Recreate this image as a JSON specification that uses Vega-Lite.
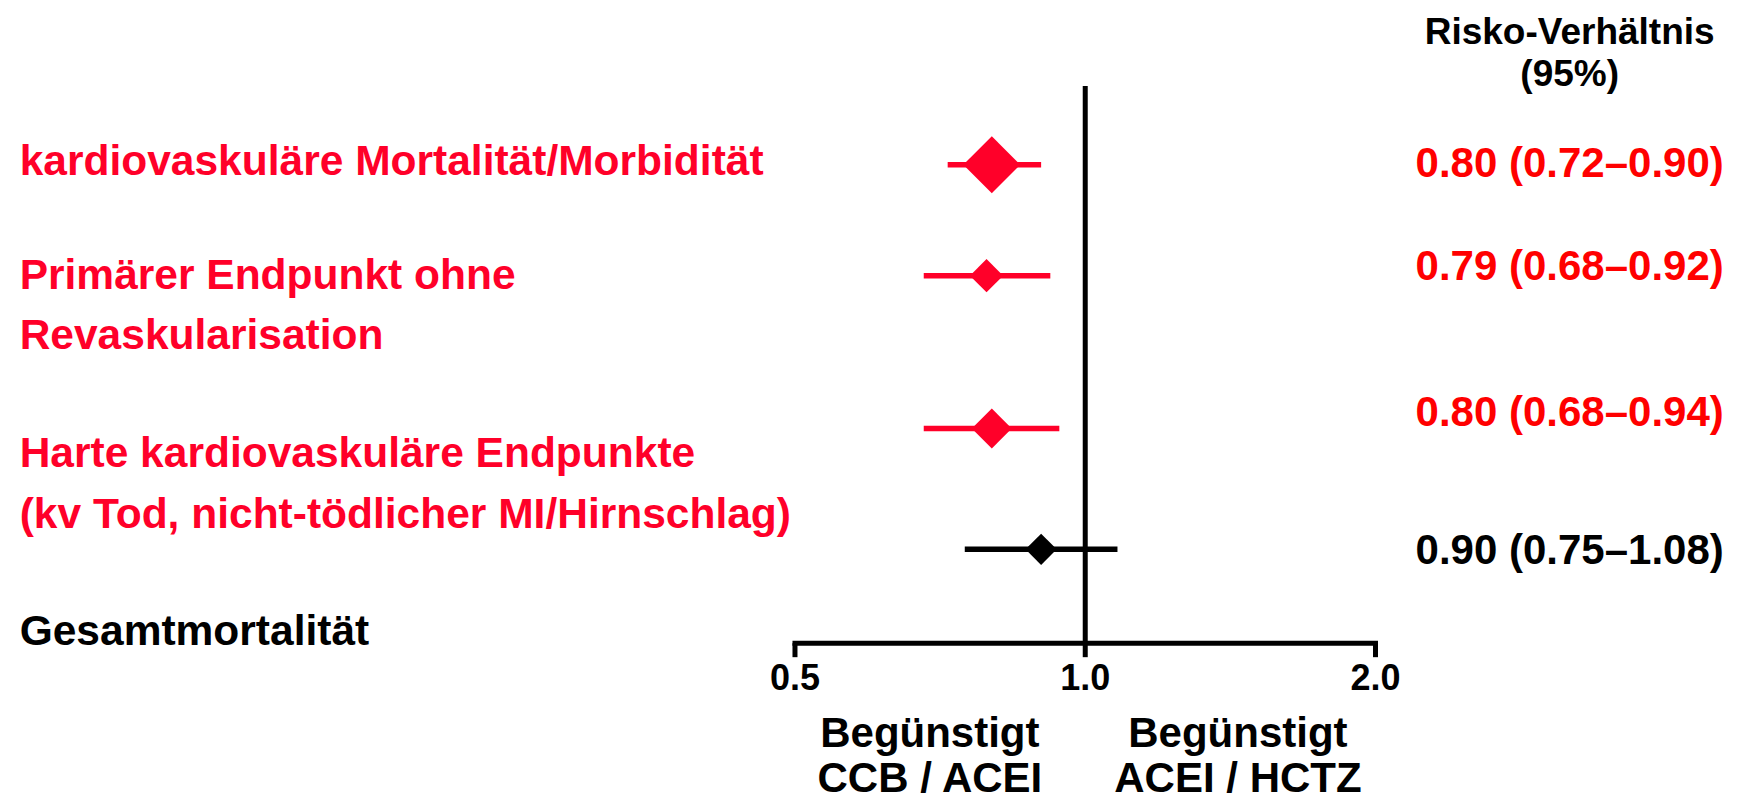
{
  "$schema": "https://vega.github.io/schema/vega-lite/v6.json",
  "width": 1740,
  "height": 800,
  "autosize": {"type": "fit", "contains": "padding"},
  "padding": 0,
  "background": "white",
  "config": {"view": {"stroke": null}, "font": "Liberation Sans, Arial, sans-serif"},
  "datasets": {
    "studien": [
      {"endpunkt": "kardiovaskuläre Mortalität/Morbidität", "rr": 0.80, "lo": 0.72, "hi": 0.90, "zeile": 1.65, "gewicht": 1.0, "gruppe": "sig", "wert": "0.80 (0.72–0.90)", "wert_zeile": 1.64},
      {"endpunkt": "Primärer Endpunkt ohne Revaskularisation", "rr": 0.79, "lo": 0.68, "hi": 0.92, "zeile": 2.76, "gewicht": 0.34, "gruppe": "sig", "wert": "0.79 (0.68–0.92)", "wert_zeile": 2.67},
      {"endpunkt": "Harte kardiovaskuläre Endpunkte", "rr": 0.80, "lo": 0.68, "hi": 0.94, "zeile": 4.29, "gewicht": 0.49, "gruppe": "sig", "wert": "0.80 (0.68–0.94)", "wert_zeile": 4.14},
      {"endpunkt": "Gesamtmortalität", "rr": 0.90, "lo": 0.75, "hi": 1.08, "zeile": 5.50, "gewicht": 0.30, "gruppe": "ns", "wert": "0.90 (0.75–1.08)", "wert_zeile": 5.52}
    ],
    "beschriftung": [
      {"text": "kardiovaskuläre Mortalität/Morbidität", "zeile": 1.62, "gruppe": "sig"},
      {"text": "Primärer Endpunkt ohne", "zeile": 2.76, "gruppe": "sig"},
      {"text": "Revaskularisation", "zeile": 3.36, "gruppe": "sig"},
      {"text": "Harte kardiovaskuläre Endpunkte", "zeile": 4.55, "gruppe": "sig"},
      {"text": "(kv Tod, nicht-tödlicher MI/Hirnschlag)", "zeile": 5.16, "gruppe": "sig"},
      {"text": "Gesamtmortalität", "zeile": 6.33, "gruppe": "ns"}
    ],
    "ticks": [
      {"rr": 0.5, "label": "0.5"},
      {"rr": 1.0, "label": "1.0"},
      {"rr": 2.0, "label": "2.0"}
    ],
    "seiten": [
      {"rr": 0.69, "text": "Begünstigt", "zeile": 7.35},
      {"rr": 0.69, "text": "CCB / ACEI", "zeile": 7.80},
      {"rr": 1.44, "text": "Begünstigt", "zeile": 7.35},
      {"rr": 1.44, "text": "ACEI / HCTZ", "zeile": 7.80}
    ],
    "kopf": [
      {"rr": 3.18, "text": "Risko-Verhältnis", "zeile": 0.33},
      {"rr": 3.18, "text": "(95%)", "zeile": 0.75}
    ]
  },
  "encoding": {
    "x": {"type": "quantitative", "scale": {"type": "log", "domain": [0.0749, 4.776], "nice": false}, "axis": null},
    "y": {"type": "quantitative", "scale": {"domain": [0, 8], "nice": false, "zero": false, "reverse": true}, "axis": null}
  },
  "layer": [
    {
      "data": {"values": [{"rr": 1.0, "oben": 0.86, "unten": 6.44}]},
      "mark": {"type": "rule", "strokeWidth": 5, "color": "black"},
      "encoding": {
        "x": {"field": "rr", "type": "quantitative"},
        "y": {"field": "oben", "type": "quantitative"},
        "y2": {"field": "unten"}
      }
    },
    {
      "data": {"values": [{"von": 0.5, "bis": 2.0, "achse": 6.44}]},
      "mark": {"type": "rule", "strokeWidth": 5, "color": "black", "strokeCap": "square"},
      "encoding": {
        "x": {"field": "von", "type": "quantitative"},
        "x2": {"field": "bis"},
        "y": {"field": "achse", "type": "quantitative"}
      }
    },
    {
      "data": {"name": "ticks"},
      "mark": {"type": "rule", "strokeWidth": 5, "color": "black"},
      "encoding": {
        "x": {"field": "rr", "type": "quantitative"},
        "y": {"datum": 6.44, "type": "quantitative"},
        "y2": {"datum": 6.58}
      }
    },
    {
      "data": {"name": "ticks"},
      "mark": {"type": "text", "fontWeight": "bold", "fontSize": 36, "align": "center", "baseline": "middle", "color": "black"},
      "encoding": {
        "x": {"field": "rr", "type": "quantitative"},
        "y": {"datum": 6.80, "type": "quantitative"},
        "text": {"field": "label"}
      }
    },
    {
      "data": {"name": "studien"},
      "mark": {"type": "rule", "strokeWidth": 5.5},
      "encoding": {
        "x": {"field": "lo", "type": "quantitative"},
        "x2": {"field": "hi"},
        "y": {"field": "zeile", "type": "quantitative"},
        "color": {"field": "gruppe", "type": "nominal", "scale": {"domain": ["sig", "wert", "ns"], "range": ["#FF0029", "#FF0000", "#000000"]}, "legend": null}
      }
    },
    {
      "data": {"name": "studien"},
      "mark": {"type": "point", "shape": "diamond", "filled": true, "opacity": 1, "strokeWidth": 0},
      "encoding": {
        "x": {"field": "rr", "type": "quantitative"},
        "y": {"field": "zeile", "type": "quantitative"},
        "size": {"field": "gewicht", "type": "quantitative", "scale": {"domain": [0, 1], "range": [0, 3250]}, "legend": null},
        "color": {"field": "gruppe", "type": "nominal", "legend": null}
      }
    },
    {
      "data": {"name": "studien"},
      "transform": [{"calculate": "datum.gruppe == 'sig' ? 'wert' : 'ns'", "as": "farbe"}],
      "mark": {"type": "text", "fontWeight": "bold", "fontSize": 42, "align": "center", "baseline": "middle"},
      "encoding": {
        "x": {"datum": 3.18, "type": "quantitative"},
        "y": {"field": "wert_zeile", "type": "quantitative"},
        "text": {"field": "wert"},
        "color": {"field": "farbe", "type": "nominal", "legend": null}
      }
    },
    {
      "data": {"name": "beschriftung"},
      "mark": {"type": "text", "fontWeight": "bold", "fontSize": 42.5, "align": "left", "baseline": "middle"},
      "encoding": {
        "x": {"datum": 0.0785, "type": "quantitative"},
        "y": {"field": "zeile", "type": "quantitative"},
        "text": {"field": "text"},
        "color": {"field": "gruppe", "type": "nominal", "legend": null}
      }
    },
    {
      "data": {"name": "seiten"},
      "mark": {"type": "text", "fontWeight": "bold", "fontSize": 42, "align": "center", "baseline": "middle", "color": "black"},
      "encoding": {
        "x": {"field": "rr", "type": "quantitative"},
        "y": {"field": "zeile", "type": "quantitative"},
        "text": {"field": "text"}
      }
    },
    {
      "data": {"name": "kopf"},
      "mark": {"type": "text", "fontWeight": "bold", "fontSize": 37, "align": "center", "baseline": "middle", "color": "black"},
      "encoding": {
        "x": {"field": "rr", "type": "quantitative"},
        "y": {"field": "zeile", "type": "quantitative"},
        "text": {"field": "text"}
      }
    }
  ]
}
